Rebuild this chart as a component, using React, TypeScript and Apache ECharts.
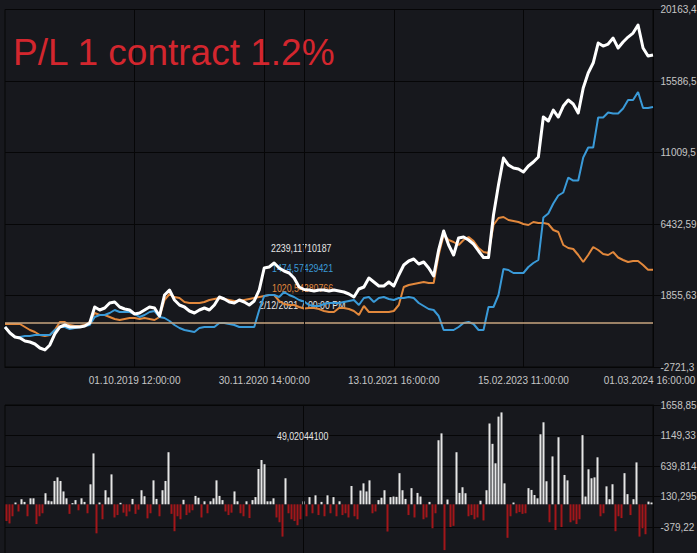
import React, { useEffect, useRef } from "react";
import * as echarts from "echarts";

// ---------- data ----------
const xTickLabels = [
  "01.10.2019 12:00:00",
  "30.11.2020 14:00:00",
  "13.10.2021 16:00:00",
  "15.02.2023 11:00:00",
  "01.03.2024 16:00:00",
];
const xTickStep = 26;

// total P/L (white)
const totalPL = [
  -160, -544, -800, -864, -1056, -1120, -1248, -1504, -1632, -1312,
  -608, -160, -32, -160, -160, -160, -96, 96, 1120, 928,
  1056, 1376, 1440, 1120, 992, 928, 672, 736, 928, 1120,
  1056, 544, 1888, 2208, 1568, 1248, 1120, 864, 736, 928,
  1056, 928, 1248, 1760, 1632, 1440, 1376, 1568, 1440, 1248,
  1504, 2208, 3616, 3680, 3936, 3616, 3424, 3296, 2976, 2400,
  2240, 2208, 2144, 2208, 2208, 2144, 2208, 2144, 2080, 1952,
  1760, 2272, 2400, 2976, 2720, 2464, 2464, 2720, 2464, 3168,
  3808, 4064, 4192, 3872, 4000, 3616, 3104, 4768, 5984, 5088,
  4448, 5536, 5600, 5408, 5152, 4704, 4288, 4288, 7008, 8928,
  10656, 10208, 10016, 9952, 9760, 10144, 10400, 10720, 13280, 13024,
  13728, 13280, 13984, 14368, 14112, 13536, 15136, 16096, 16736, 18016,
  17824, 17952, 18336, 17696, 18080, 18400, 18656, 19168, 17696, 17184,
  17248,
];

// long side P/L (blue)
const longPL = [
  -160, -544, -800, -800, -736, -736, -672, -672, -672, -672,
  -352, -160, -160, -288, -224, -160, -96, -32, 480, 608,
  608, 736, 928, 800, 800, 800, 672, 480, 608, 800,
  864, 480, 416, 224, -32, -224, -352, -416, -480, -224,
  -160, -160, -160, 96, 96, 32, -32, -160, -160, -160,
  -160, 928, 1824, 1888, 1888, 1760, 2080, 1888, 1760, 1568,
  1475, 1248, 1184, 1184, 1312, 1376, 1376, 1376, 1440, 1504,
  1568, 1248, 1696, 1760, 1440, 1696, 1760, 1632, 1568, 1696,
  1696, 1760, 1696, 1376, 1184, 992, 928, 544, -352, -352,
  -352, -160, 96, 160, 32, -352, -352, 1120, 1120, 1888,
  3552, 3488, 3296, 3296, 3296, 3680, 3936, 4128, 6848, 7104,
  7744, 8256, 8448, 9408, 9216, 9216, 10688, 11328, 11328, 13248,
  13248, 13568, 13504, 13504, 13824, 14368, 14368, 14880, 13856, 13856,
  13920,
];

// short side P/L (orange)
const shortPL = [
  32, 32, 32, 32, -160, -352, -480, -672, -736, -672,
  -352, 160, 160, -32, -96, -96, -32, 160, 736, 608,
  608, 480, 352, 288, 352, 416, 416, 352, 416, 352,
  288, 480, 1568, 1952, 1760, 1696, 1440, 1376, 1376, 1376,
  1440, 1568, 1632, 1696, 1632, 1568, 1504, 1504, 1568, 1632,
  1696, 1760, 1824, 1888, 1888, 1504, 1312, 1248, 1248, 1120,
  1021, 1056, 1056, 992, 864, 800, 800, 1056, 1056, 992,
  864, 608, 1184, 800, 800, 800, 800, 800, 864, 1248,
  2400, 2528, 2592, 2656, 2720, 2656, 2656, 4448, 5728, 5408,
  5280, 5088, 5408, 5600, 5344, 4896, 4640, 4576, 6368, 6816,
  6880, 6688, 6624, 6560, 6432, 6368, 6560, 6496, 6496, 6432,
  6048, 5920, 5088, 4896, 4832, 4448, 4000, 4448, 4960, 4768,
  4512, 4448, 4640, 4288, 4128, 4000, 4064, 4064, 3808, 3504,
  3504,
];

// per-trade P/L (bottom panel)
const tradePL = [
  -280, -320, -200, 30, -120, 85, 40, -200, 100, 100,
  -330, -200, -150, 185, 60, 50, 390, 450, 390, 215,
  100, -160, 20, 70, -100, 100, 40, -150, 334, 850,
  -485, 30, -250, 235, 115, 500, -220, -180, 25, -140,
  -200, -120, 90, -160, -90, 235, 135, -235, -150, 400,
  90, -200, 235, 390, 870, -160, -450, -200, -250, 75,
  -180, -140, -100, 140, 110, -220, 50, -150, 50, 100,
  400, 140, 70, -120, -180, -140, 215, 50, -150, -200,
  50, -230, 70, 120, 590, 740, 670, 50, 50, 100,
  -220, -300, -540, 435, -150, -250, -280, -350, -250, 49.02,
  -200, 120, -150, 150, -180, 40, -200, 150, -150, 120,
  -200, 50, -180, -150, -220, 306, -200, -250, 230, 350,
  215, 400, -150, -120, 70, 110, 235, -455, 120, 130,
  125, 520, 235, 90, -180, 270, -220, 190, 130, -250,
  -220, 40, -400, -150, 1070, 1185, -765, 80, -380, -360,
  870, 190, 285, 185, -200, -180, -250, -220, 60, -270,
  235, 1350, 1010, 685, 1465, 1535, 350, -560, -200, 30,
  -150, -130, -160, -150, 270, 240, 155, 100, 1170, 1370,
  385, -300, 800, -430, 1120, -380, 490, 400, -300, -270,
  -330, -250, 1155, 130, 585, 435, 450, 785, -200, -150,
  300, 85, 335, -450, -200, -230, 520, 170, -180, 85,
  700, -540, -400, -500, 45, 30,
];

// axis scales (tick values as shown on the right axes)
const mainAxisMin = -2721.33;
const mainAxisStep = 4576.96;
const subAxisMin = -888.7415;
const subAxisStep = 509.5185;
const axisLabelChars = 7;

// cursor
const cursorIndex = 60;
const cursorBarIndex = 99;
const cursorLevel = 96;
const cursorTotal = "2239,11710187";
const cursorLong = "1474,57429421";
const cursorShort = "1020,54280766";
const cursorDate = "2/12/2021 7:00:00 PM";
const cursorTrade = "49,02044100";
const titleText = "P/L 1 contract 1.2%";

// ---------- styles ----------
const BG = "#17181d";
const LINE_DARK = "#060607";
const LABEL = "#c6c6c6";
const FONT = "'Liberation Sans', Arial, sans-serif";
const WHITE = "#ffffff";
const BLUE = "#3a9ad8";
const ORANGE = "#e2883c";
const BAR_UP = "#e6e6e6";
const BAR_DOWN = "#a3161a";
const AXIS_FS = 10;

const fmt = (v: number, d: number) => v.toFixed(d).replace(".", ",").slice(0, axisLabelChars);
const isTick = (i: number) => i > 0 && i % xTickStep === 0;

function cursorText(text: string, x: number, y: number, color: string, z: number) {
  return {
    type: "text",
    x,
    y,
    z,
    scaleX: 0.8,
    style: { text, fill: color, fontSize: 11, fontFamily: FONT, verticalAlign: "middle" },
  };
}

function buildOption(): any {
  const idx = totalPL.map((_, i) => String(i));
  const barIdx = tradePL.map((_, i) => String(i));
  const shift = (arr: number[]) => arr.map((v) => v - mainAxisMin);
  const lastIndex = totalPL.length - 1;

  return {
    backgroundColor: BG,
    animation: false,
    textStyle: { fontFamily: FONT },
    grid: [
      {
        left: 5, top: 9.5, width: 648, height: 357.5,
        containLabel: false, outerBoundsMode: "none",
        show: true, borderColor: LINE_DARK, borderWidth: 1, backgroundColor: "transparent",
      },
      {
        left: 5, top: 405, width: 648, height: 152.5,
        containLabel: false, outerBoundsMode: "none",
        show: true, borderColor: LINE_DARK, borderWidth: 1, backgroundColor: "transparent",
      },
    ],
    xAxis: [
      {
        type: "category",
        gridIndex: 0,
        data: idx,
        boundaryGap: false,
        axisLine: { show: true, lineStyle: { color: LINE_DARK } },
        axisTick: { show: false },
        axisLabel: {
          interval: (i: number) => isTick(i),
          formatter: (_v: string, i: number) => {
            if (!isTick(i)) return "";
            const t = xTickLabels[i / xTickStep - 1];
            return i === lastIndex ? "{last|" + t + "}" : t;
          },
          rich: {
            last: { color: LABEL, fontSize: AXIS_FS, fontFamily: FONT, padding: [0, 7, 0, 0] },
          },
          color: LABEL,
          fontSize: AXIS_FS,
          fontFamily: FONT,
          margin: 8,
        },
        splitLine: { show: true, interval: (i: number) => isTick(i), lineStyle: { color: LINE_DARK, width: 1 } },
      },
      {
        type: "category",
        gridIndex: 1,
        data: barIdx,
        boundaryGap: true,
        axisLine: { show: false },
        axisTick: { show: false },
        axisLabel: { show: false },
        splitLine: { show: false },
      },
    ],
    yAxis: [
      {
        type: "value",
        gridIndex: 0,
        position: "right",
        min: 0,
        max: mainAxisStep * 5,
        interval: mainAxisStep,
        axisLine: { show: true, lineStyle: { color: LINE_DARK } },
        axisTick: { show: true, length: 8, lineStyle: { color: LINE_DARK } },
        axisLabel: { color: LABEL, fontSize: AXIS_FS, fontFamily: FONT, margin: 7.5, formatter: (v: number) => fmt(v + mainAxisMin, 2) },
        splitLine: { show: true, lineStyle: { color: LINE_DARK, width: 1 } },
      },
      {
        type: "value",
        gridIndex: 1,
        position: "right",
        min: 0,
        max: subAxisStep * 5,
        interval: subAxisStep,
        axisLine: { show: true, lineStyle: { color: LINE_DARK } },
        axisTick: { show: true, length: 8, lineStyle: { color: LINE_DARK } },
        axisLabel: { color: LABEL, fontSize: AXIS_FS, fontFamily: FONT, margin: 7.5, showMinLabel: false, formatter: (v: number) => fmt(v + subAxisMin, 4) },
        splitLine: { show: true, lineStyle: { color: LINE_DARK, width: 1 } },
      },
    ],
    series: [
      {
        name: "short",
        type: "line",
        xAxisIndex: 0,
        yAxisIndex: 0,
        data: shift(shortPL),
        symbol: "none",
        lineStyle: { color: ORANGE, width: 2 },
        itemStyle: { color: ORANGE },
        z: 3,
        markLine: {
          silent: true,
          symbol: "none",
          label: { show: false },
          data: [
            { yAxis: cursorLevel - mainAxisMin, lineStyle: { color: "#c9a47f", width: 1.5, type: "solid" } },
            { xAxis: cursorIndex, lineStyle: { color: LINE_DARK, width: 1, type: "solid" } },
          ],
        },
      },
      {
        name: "long",
        type: "line",
        xAxisIndex: 0,
        yAxisIndex: 0,
        data: shift(longPL),
        symbol: "none",
        lineStyle: { color: BLUE, width: 2 },
        itemStyle: { color: BLUE },
        z: 4,
      },
      {
        name: "total",
        type: "line",
        xAxisIndex: 0,
        yAxisIndex: 0,
        data: shift(totalPL),
        symbol: "none",
        lineStyle: { color: WHITE, width: 3, join: "round" },
        itemStyle: { color: WHITE },
        z: 5,
      },
      {
        name: "base",
        type: "bar",
        xAxisIndex: 1,
        yAxisIndex: 1,
        stack: "trades",
        stackStrategy: "all",
        silent: true,
        barWidth: 2,
        data: tradePL.map(() => -subAxisMin),
        itemStyle: { color: "rgba(0,0,0,0)" },
      },
      {
        name: "trades",
        type: "bar",
        xAxisIndex: 1,
        yAxisIndex: 1,
        stack: "trades",
        stackStrategy: "all",
        barWidth: 2,
        data: tradePL.map((v) => ({ value: v, itemStyle: { color: v >= 0 ? BAR_UP : BAR_DOWN } })),
        markLine: {
          silent: true,
          symbol: "none",
          label: { show: false },
          lineStyle: { color: LINE_DARK, width: 1, type: "solid" },
          data: [{ xAxis: cursorBarIndex }],
        },
      },
    ],
    graphic: [
      { type: "text", x: 13, y: 52, z: 10, style: { text: titleText, fill: "#d3262e", fontSize: 37, fontFamily: FONT, verticalAlign: "middle" } },
      cursorText(cursorTotal, 271, 248, "#e6e6e6", 1),
      cursorText(cursorLong, 272, 268, BLUE, 1),
      cursorText(cursorShort, 272, 288, ORANGE, 1),
      cursorText(cursorDate, 259, 305, "#e6e6e6", 1),
      cursorText(cursorTrade, 277, 436, "#e6e6e6", 10),
    ],
  };
}

export default function App() {
  const ref = useRef<HTMLDivElement>(null);
  useEffect(() => {
    document.body.style.margin = "0";
    document.body.style.background = BG;
    const chart = echarts.init(ref.current as HTMLDivElement, null, { renderer: "svg" });
    chart.setOption(buildOption());
    return () => chart.dispose();
  }, []);
  return (
    <div
      ref={ref}
      style={{ position: "absolute", left: 0, top: 0, width: 697, height: 553, background: BG, overflow: "hidden" }}
    />
  );
}
